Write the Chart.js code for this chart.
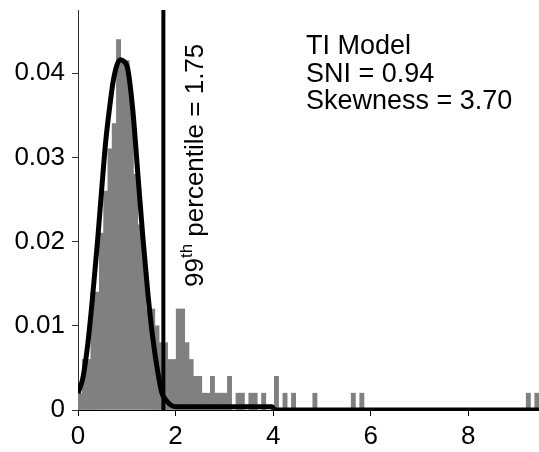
<!DOCTYPE html>
<html>
<head>
<meta charset="utf-8">
<script src="https://cdn.jsdelivr.net/npm/chart.js@4.4.1/dist/chart.umd.min.js"></script>
<style>
  html, body { margin: 0; padding: 0; background: #fff; }
  #wrap { width: 539px; height: 452px; position: relative; }
</style>
</head>
<body>
<div id="wrap"><canvas id="histChart"></canvas></div>
<script>
// histogram: bin centres (bins are 0.0875 wide) and bin heights, empty bins left out
const binCenters = [
  0.0438, 0.1313, 0.2188, 0.3063, 0.3938, 0.4813, 0.5688, 0.6563, 0.7438, 0.8313,
  0.9188, 1.0063, 1.0938, 1.1813, 1.2688, 1.3563, 1.4438, 1.5313, 1.6188, 1.7063,
  1.7938, 1.8813, 1.9688, 2.0563, 2.1438, 2.2313, 2.3188, 2.4063, 2.4938, 2.5813,
  2.6688, 2.7563, 2.8438, 2.9313, 3.0188, 3.1063, 3.2813, 3.3688, 3.5438, 3.6313,
  3.8063, 4.0688, 4.2438, 4.4188, 4.8563, 5.6438, 5.8188, 9.2313, 9.4063
];
const binHeights = [
  0.002, 0.006, 0.006, 0.014, 0.014, 0.021, 0.026, 0.031, 0.034, 0.044,
  0.0415, 0.0415, 0.037, 0.028, 0.022, 0.018, 0.012, 0.012, 0.010, 0.008,
  0.008, 0.006, 0.006, 0.012, 0.012, 0.008, 0.006, 0.004, 0.004, 0.002,
  0.002, 0.004, 0.002, 0.002, 0.002, 0.004, 0.002, 0.002, 0.002, 0.002,
  0.002, 0.004, 0.002, 0.002, 0.002, 0.002, 0.002, 0.002, 0.002
];

// fitted curve
const fitX = [0, 0.1, 0.2, 0.3, 0.4, 0.48, 0.57, 0.65, 0.72, 0.8, 0.87, 0.94, 1.02,
  1.125, 1.227, 1.33, 1.43, 1.53, 1.636, 1.72, 1.8, 1.9, 2.0, 2.2, 3.0, 3.98, 4.03, 6.0, 9.45];
const fitY = [0.002, 0.0038, 0.0078, 0.0135, 0.02, 0.0258, 0.032, 0.036, 0.039, 0.041, 0.0416, 0.0414, 0.0405,
  0.0355, 0.028, 0.0205, 0.014, 0.0087, 0.0045, 0.002, 0.0012, 0.0006, 0.0004, 0.0004, 0.0004, 0.0004, 0, 0, 0];

const pctlValue = 1.75;
const pctlLabel = ['99', 'th', ' percentile = 1.75'];
const noteLines = ['TI Model', 'SNI = 0.94', 'Skewness = 3.70'];

const xTicks = [0, 2, 4, 6, 8];
const yTicks = [0, 0.01, 0.02, 0.03, 0.04];
const yTickLabels = ['0', '0.01', '0.02', '0.03', '0.04'];
const xMax = 9.45;
const yMax = 0.0475;

const FONT = '"Liberation Sans", Arial, Helvetica, sans-serif';
Chart.defaults.font.family = FONT;
Chart.defaults.color = '#000';

const notesPlugin = {
  id: 'notes',
  afterDraw(chart) {
    const ctx = chart.ctx;
    const xs = chart.scales.x;
    ctx.save();
    ctx.fillStyle = '#000';
    ctx.textAlign = 'left';
    ctx.textBaseline = 'alphabetic';
    ctx.font = '27px ' + FONT;
    noteLines.forEach((t, i) => ctx.fillText(t, 306, 54 + i * 27.5));

    // rotated label next to the percentile line
    const px = xs.getPixelForValue(pctlValue);
    ctx.translate(px + 40, 287);
    ctx.rotate(-Math.PI / 2);
    ctx.font = '26px ' + FONT;
    ctx.fillText(pctlLabel[0], 0, 0);
    let w = ctx.measureText(pctlLabel[0]).width;
    ctx.font = '17px ' + FONT;
    ctx.fillText(pctlLabel[1], w, -11);
    w += ctx.measureText(pctlLabel[1]).width;
    ctx.font = '26px ' + FONT;
    ctx.fillText(pctlLabel[2], w, 0);
    ctx.restore();
  }
};

const ctx = document.getElementById('histChart').getContext('2d');
const chart = new Chart(ctx, {
  type: 'bar',
  data: {
    datasets: [
      {
        type: 'line',
        data: [{ x: pctlValue, y: 0 }, { x: pctlValue, y: yMax }],
        borderColor: '#000',
        borderWidth: 4,
        pointRadius: 0,
        order: 1
      },
      {
        type: 'line',
        data: fitX.map((x, i) => ({ x: x, y: fitY[i] })),
        borderColor: '#000',
        borderWidth: 5,
        pointRadius: 0,
        cubicInterpolationMode: 'monotone',
        order: 2
      },
      {
        type: 'bar',
        data: binCenters.map((x, i) => ({ x: x, y: binHeights[i] })),
        backgroundColor: '#808080',
        borderWidth: 0,
        barPercentage: 1,
        categoryPercentage: 1,
        order: 3
      }
    ]
  },
  options: {
    responsive: true,
    maintainAspectRatio: false,
    animation: false,
    layout: { padding: { top: 10, right: 0, left: 0, bottom: 0 } },
    plugins: {
      legend: { display: false },
      tooltip: { enabled: false }
    },
    scales: {
      x: {
        type: 'linear',
        min: 0,
        max: xMax,
        offset: false,
        afterBuildTicks: (scale) => { scale.ticks = xTicks.map(v => ({ value: v })); },
        afterFit: (scale) => { scale.height = 42; scale.paddingLeft = 0; scale.paddingRight = 0; },
        grid: { offset: false, drawOnChartArea: false, drawTicks: true, tickLength: 6, color: '#000' },
        border: { display: true, color: '#000', width: 1 },
        ticks: { font: { size: 26 }, padding: 5, maxRotation: 0, color: '#000' }
      },
      y: {
        min: 0,
        max: yMax,
        afterBuildTicks: (scale) => { scale.ticks = yTicks.map(v => ({ value: v })); },
        afterFit: (scale) => { scale.width = 78; scale.paddingTop = 0; scale.paddingBottom = 0; },
        grid: { drawOnChartArea: false, drawTicks: true, tickLength: 6, color: '#333' },
        border: { display: true, color: '#333', width: 1 },
        ticks: {
          font: { size: 26 },
          padding: 7,
          color: '#000',
          callback: (v) => yTickLabels[yTicks.indexOf(v)]
        }
      }
    }
  },
  plugins: [notesPlugin]
});
</script>
</body>
</html>
